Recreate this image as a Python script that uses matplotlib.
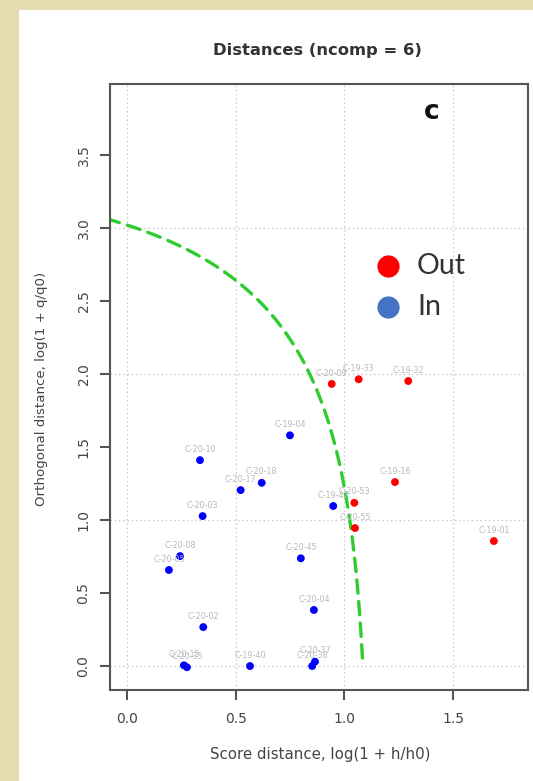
import numpy as np
import matplotlib
matplotlib.use("Agg")
import matplotlib.pyplot as plt
from matplotlib.patches import Rectangle

# ---- data: score distance (x) and orthogonal distance (y), log-transformed ----
out_names = ["C-20-09", "C-19-33", "C-19-32", "C-19-16", "C-20-53", "C-20-55", "C-19-01"]
out_x = [0.942, 1.066, 1.294, 1.233, 1.046, 1.049, 1.688]
out_y = [1.932, 1.964, 1.952, 1.260, 1.118, 0.945, 0.856]

in_names = ["C-19-04", "C-20-10", "C-20-18", "C-20-17", "C-19-47", "C-20-03",
            "C-20-08", "C-20-05", "C-20-45", "C-20-04", "C-20-02", "C-20-15",
            "C-20-35", "C-19-40", "C-20-37", "C-20-38"]
in_x = [0.750, 0.336, 0.620, 0.523, 0.949, 0.348, 0.244, 0.193, 0.800, 0.860,
        0.351, 0.262, 0.276, 0.566, 0.865, 0.852]
in_y = [1.580, 1.410, 1.255, 1.205, 1.096, 1.027, 0.753, 0.658, 0.738, 0.384,
        0.267, 0.005, -0.008, 0.000, 0.030, 0.000]

legend_labels = ["Out", "In"]
legend_colors = ["#ff0000", "#4472c4"]

# critical limits (in units of h/h0 and q/q0) defining the acceptance boundary
h_lim = 1.96
q_lim = 19.5

x_ticks = [0.0, 0.5, 1.0, 1.5]
y_ticks = [0.0, 0.5, 1.0, 1.5, 2.0, 2.5, 3.0, 3.5]

W, H = 533, 781
fig = plt.figure(figsize=(W / 100, H / 100), dpi=100)
fig.patch.set_facecolor("white")

# beige frame strips
beige = "#e4dbb0"
fig.patches.append(Rectangle((0, 0), 19 / W, 1, transform=fig.transFigure,
                             facecolor=beige, edgecolor="none", zorder=0))
fig.patches.append(Rectangle((0, 1 - 10 / H), 1, 10 / H, transform=fig.transFigure,
                             facecolor=beige, edgecolor="none", zorder=0))

ax = fig.add_axes([110 / W, 1 - 690 / H, 418 / W, 606 / H])
ax.set_xlim(-0.078, 1.845)
ax.set_ylim(-0.164, 3.986)

# dotted grid
grid_kw = dict(color="#c8c8c8", lw=0.9, ls=(0, (1.2, 2.2)), zorder=0)
for gx in x_ticks:
    ax.axvline(gx, **grid_kw)
for gy in [0.0, 1.0, 2.0, 3.0]:
    ax.axhline(gy, **grid_kw)

# acceptance boundary: h/h0 / h_lim + q/q0 / q_lim = 1
t = np.linspace(0.0029, 1.06, 400)
hb = h_lim * (1 - t)
qb = q_lim * t
ax.plot(np.log1p(hb), np.log1p(qb), color="#2fcc2f", lw=2.4,
        ls=(0, (4.0, 2.5)), zorder=2, dash_capstyle="round")

ax.scatter(out_x, out_y, s=32, color="#ff0000", edgecolors="none", zorder=3)
ax.scatter(in_x, in_y, s=32, color="#0000ff", edgecolors="none", zorder=3)

lab_kw = dict(textcoords="offset points", xytext=(0, 7.8), ha="center",
              va="center", fontsize=5.8, color="#b8b8b8", zorder=4)
for n, x, y in zip(out_names, out_x, out_y):
    ax.annotate(n, (x, y), **lab_kw)
for n, x, y in zip(in_names, in_x, in_y):
    ax.annotate(n, (x, y), **lab_kw)

# frame and ticks in R base-graphics style
for sp in ax.spines.values():
    sp.set_color("#555555")
    sp.set_linewidth(1.5)
ax.set_xticks(x_ticks)
ax.set_xticklabels([f"{v:.1f}" for v in x_ticks])
ax.set_yticks(y_ticks)
ax.set_yticklabels([f"{v:.1f}" for v in y_ticks], rotation=90, va="center")
ax.tick_params(axis="both", direction="out", length=7, width=1.5, color="#555555",
               labelsize=10, labelcolor="#444444")
ax.tick_params(axis="x", pad=9)
ax.tick_params(axis="y", pad=7)

fig.text(317 / W, 1 - 50 / H, "Distances (ncomp = 6)", ha="center", va="center",
         fontsize=11.8, fontweight="bold", color="#333333")
fig.text(320 / W, 1 - 754 / H, "Score distance, log(1 + h/h0)", ha="center",
         va="center", fontsize=10.8, color="#444444")
fig.text(42 / W, 1 - 389 / H, "Orthogonal distance, log(1 + q/q0)", ha="center",
         va="center", rotation=90, fontsize=9.6, color="#444444")

# panel letter
fig.text(432 / W, 1 - 112 / H, "c", ha="center", va="center",
         fontsize=19, fontweight="bold", color="#111111")

# legend drawn by hand: big dots with labels
leg_y = [266, 307]
for lbl, col, py in zip(legend_labels, legend_colors, leg_y):
    fig.add_artist(plt.Line2D([388 / W], [1 - py / H], ls="none", marker="o",
                              ms=16, color=col, mec="none", transform=fig.transFigure))
    fig.text(417 / W, 1 - py / H, lbl, ha="left", va="center", fontsize=20.5,
             color="#333333", family="Lato")

fig.savefig("out.png", dpi=100)
